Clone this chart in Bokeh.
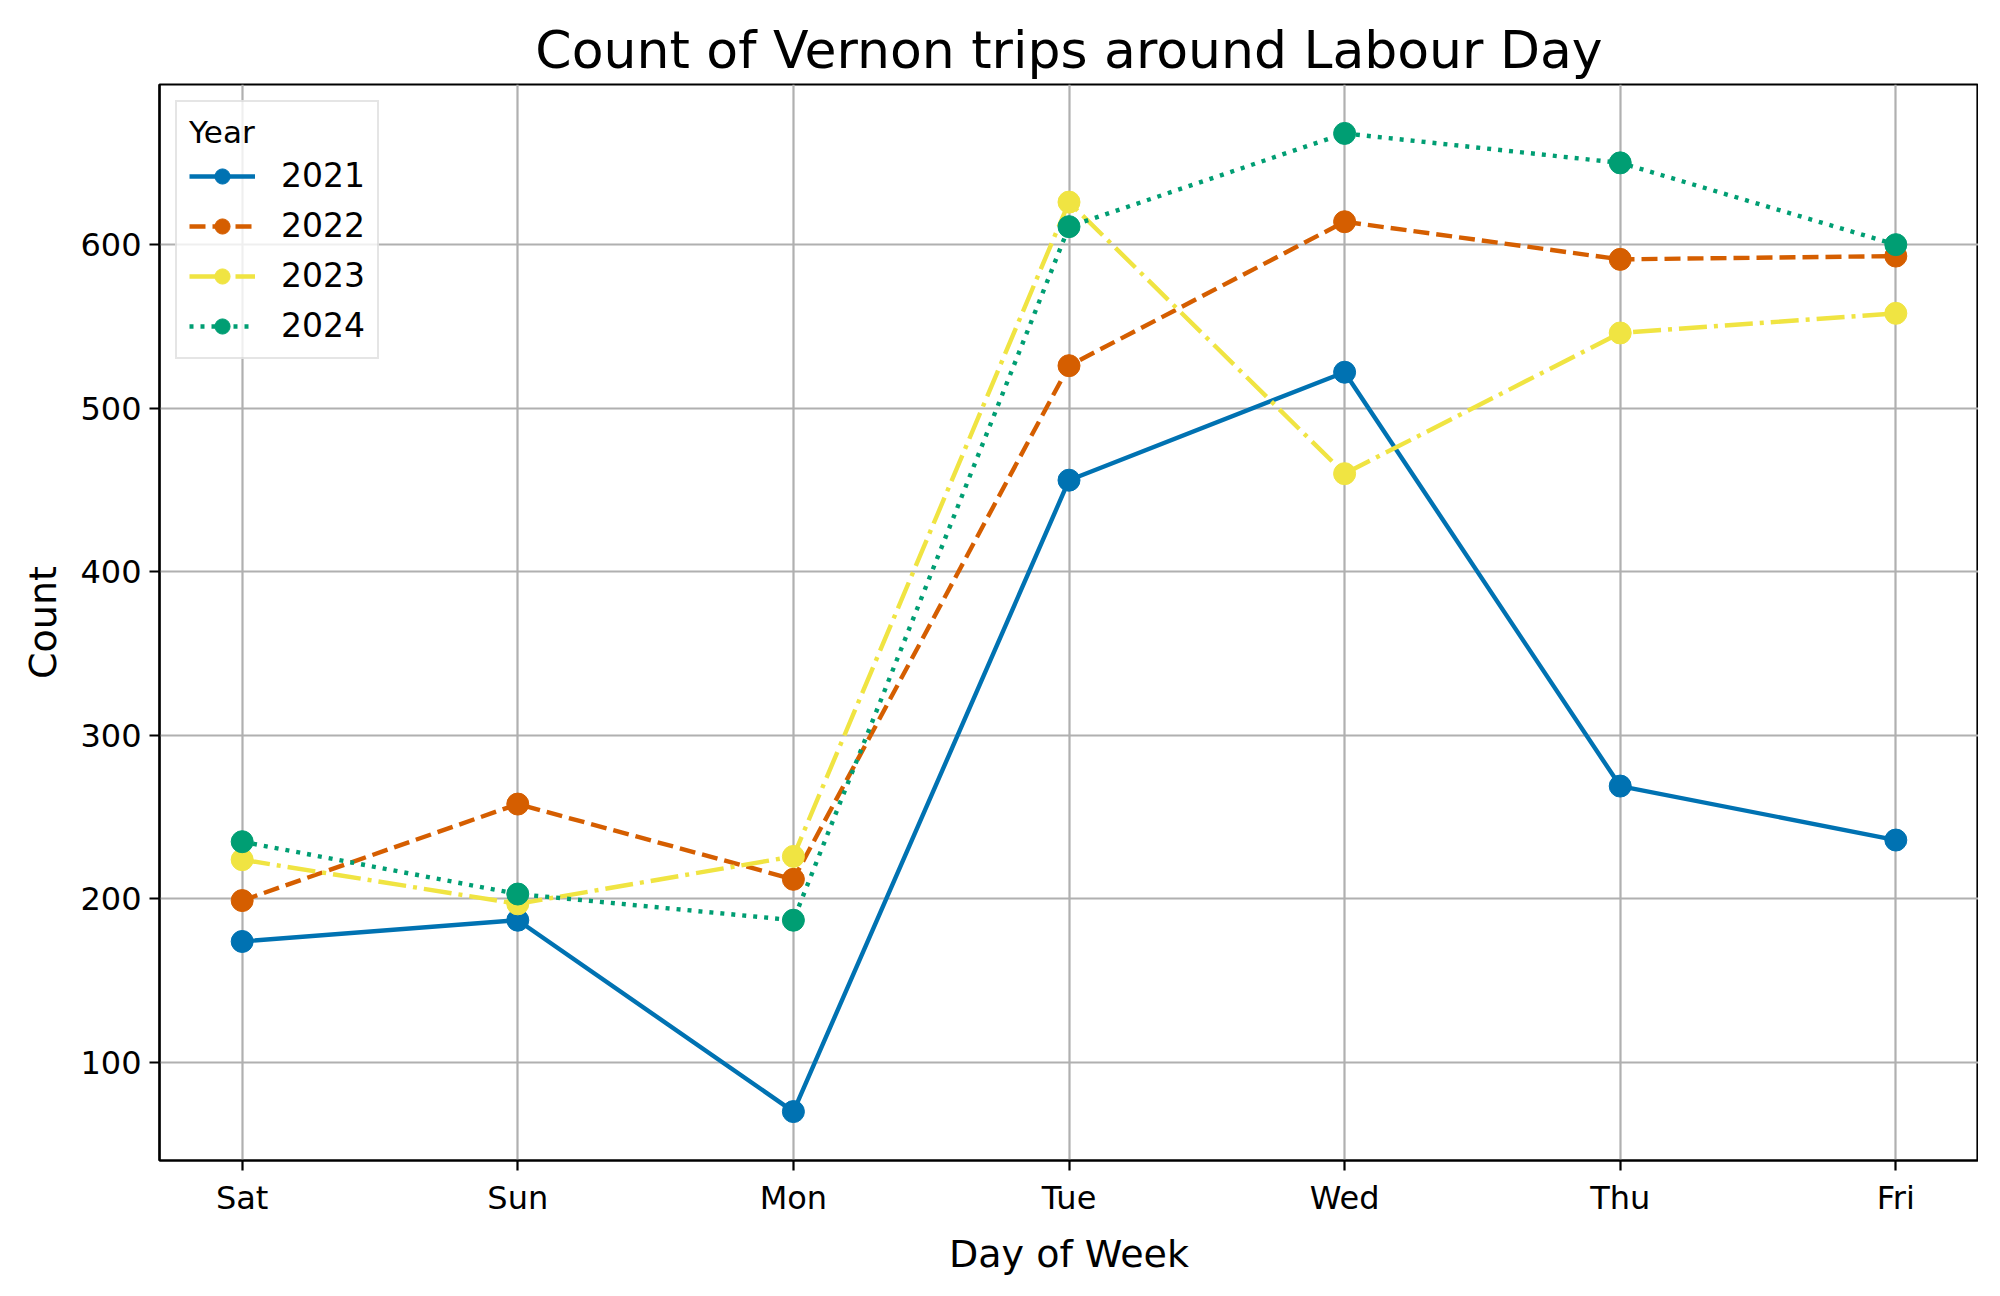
from bokeh.plotting import figure
from bokeh.models import FixedTicker, Range1d, Legend, LegendItem
from bokeh.embed import file_html
from bokeh.resources import INLINE

days = ["Sat", "Sun", "Mon", "Tue", "Wed", "Thu", "Fri"]
years = ["2021", "2022", "2023", "2024"]
counts_2021 = [174, 187, 70, 456, 522, 269, 236]
counts_2022 = [199, 258, 212, 526, 614, 591, 593]
counts_2023 = [224, 197, 226, 626, 460, 546, 558]
counts_2024 = [235, 203, 187, 611, 668, 650, 600]
y_ticks = [100, 200, 300, 400, 500, 600]

series = [counts_2021, counts_2022, counts_2023, counts_2024]
colors = ["#0072B2", "#D55E00", "#F0E442", "#009E73"]
dashes = ["solid", "16 7", "28 7 4 7", "4 7"]

FONT = "DejaVu Sans"
x = list(range(len(days)))

p = figure(width=1978, height=1278, output_backend="svg", toolbar_location=None,
           x_range=Range1d(-0.3, 6.3), y_range=Range1d(40.1, 697.9),
           min_border_left=159, min_border_right=0, min_border_top=84,
           min_border_bottom=110)

p.title.text = "Count of Vernon trips around Labour Day"
p.title.align = "center"
p.title.text_font = FONT
p.title.text_font_size = "52px"
p.title.text_font_style = "normal"
p.title.text_color = "black"
p.title.offset = 0
p.title.standoff = 10

items = []
for yr, vals, c, d in zip(years, series, colors, dashes):
    ln = p.line(x, vals, line_color=c, line_width=4.4, line_dash=d)
    sc = p.scatter(x, vals, size=22, fill_color=c, line_color=c)
    items.append(LegendItem(label=yr, renderers=[ln, sc]))

legend = Legend(items=items, location="top_left", title="Year")
legend.title_text_font = FONT
legend.title_text_font_size = "31px"
legend.title_text_font_style = "normal"
legend.title_text_color = "black"
legend.label_text_font = FONT
legend.label_text_font_size = "33px"
legend.label_text_color = "black"
legend.border_line_color = "#cccccc"
legend.border_line_width = 2.2
legend.background_fill_alpha = 0.8
legend.margin = 16
legend.padding = 12
legend.spacing = 11
legend.glyph_width = 66
legend.glyph_height = 38
legend.label_height = 38
legend.label_standoff = 26
legend.title_standoff = 6
p.add_layout(legend)

p.xaxis.ticker = FixedTicker(ticks=x)
p.xaxis.major_label_overrides = {i: d for i, d in enumerate(days)}
p.yaxis.ticker = FixedTicker(ticks=y_ticks)

for ax in (p.xaxis[0], p.yaxis[0]):
    ax.major_label_text_font = FONT
    ax.major_label_text_font_size = "32px"
    ax.major_label_text_color = "black"
    ax.axis_label_text_font = FONT
    ax.axis_label_text_font_size = "38px"
    ax.axis_label_text_font_style = "normal"
    ax.axis_label_text_color = "black"
    ax.axis_line_color = "black"
    ax.axis_line_width = 2.2
    ax.major_tick_line_color = "black"
    ax.major_tick_line_width = 2.2
    ax.major_tick_out = 10
    ax.major_tick_in = 0
    ax.minor_tick_line_color = None
    ax.major_label_standoff = 8
    ax.axis_label_standoff = 12

p.xaxis.axis_label = "Day of Week"
p.yaxis.axis_label = "Count"

p.xgrid.grid_line_color = "#b0b0b0"
p.ygrid.grid_line_color = "#b0b0b0"
p.xgrid.grid_line_width = 2.2
p.ygrid.grid_line_width = 2.2

p.outline_line_color = "black"
p.outline_line_width = 2.2
p.outline_line_alpha = 1.0

open("out.html", "w").write(file_html(p, INLINE))
